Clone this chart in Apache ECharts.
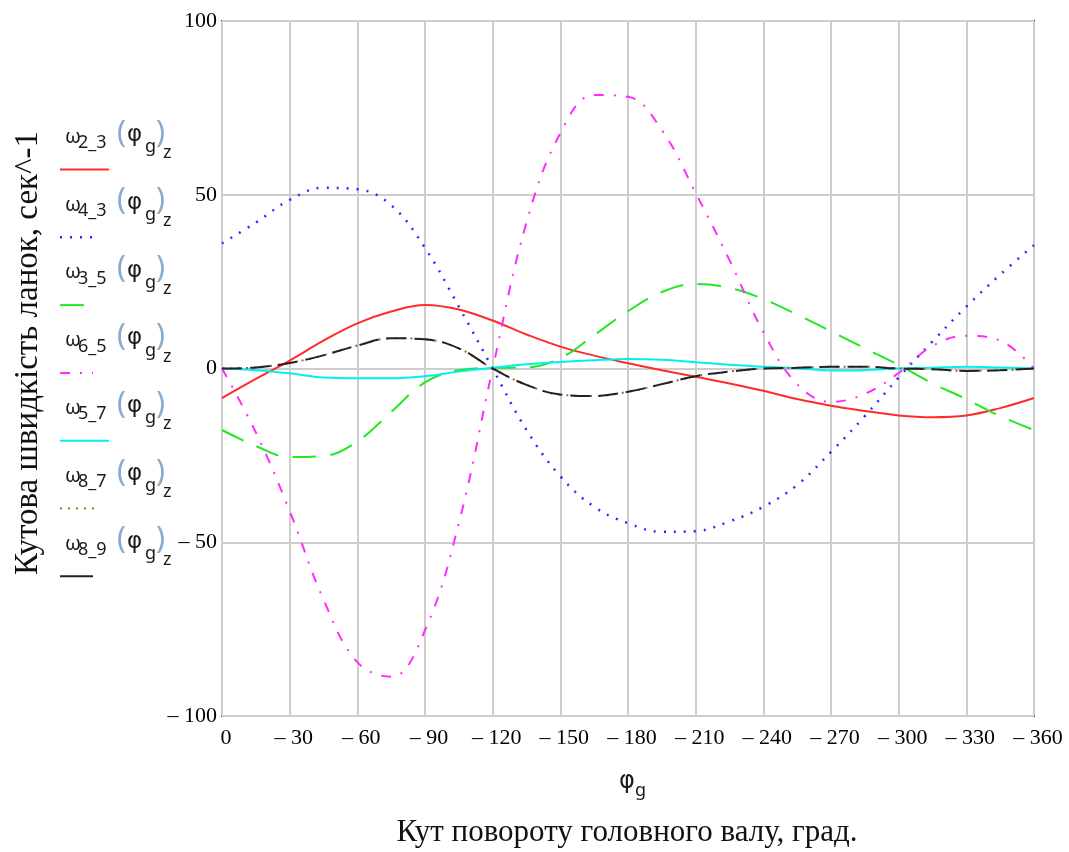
<!DOCTYPE html>
<html lang="uk">
<head>
<meta charset="UTF-8">
<title>Кутова швидкість ланок</title>
<script src="https://cdn.jsdelivr.net/npm/echarts@6/dist/echarts.min.js"></script>
<style>
  html, body { margin: 0; padding: 0; background: #fff; }
  #chart { width: 1069px; height: 852px; }
</style>
</head>
<body>
<div id="chart"></div>
<script type="text/javascript">
    // кут повороту головного валу, град
    var phi = [0, 15, 30, 45, 60, 75, 90, 105, 120, 135, 150, 165, 180,
               195, 210, 225, 240, 255, 270, 285, 300, 315, 330, 345, 360];

    // кутові швидкості ланок, сек^-1
    var w23 = [-8.5, -3, 2.3, 8, 13, 16.4, 18.3, 17, 13.8, 9.8, 6.3, 3.7, 1.5,
               -0.5, -2.4, -4.3, -6.4, -8.8, -10.7, -12.2, -13.5, -14, -13.5, -11.4, -8.5];
    var w43 = [36, 42, 48.5, 52, 51.6, 47, 34.7, 17.8, 0, -17.7, -31, -39.8, -44.5,
               -47, -46.8, -44, -39.8, -33.5, -24, -13.7, -2.6, 7.8, 17.8, 27, 35.5];
    var w35 = [-17.7, -22.3, -25.5, -25.2, -21, -12.5, -4, -0.5, 0.2, 0.3, 3, 9.6, 16.5,
               22, 24.3, 23.2, 20, 15.5, 10.7, 5.8, 1, -4.3, -8.8, -13.7, -17.7];
    var w65 = [0, -18.4, -41, -66.5, -84.5, -88.7, -75.3, -44.5, 0, 42, 67.7, 78.7, 78.2,
               68.6, 50.5, 31.2, 10.5, -4.5, -9.6, -7.3, -1.3, 6.5, 9.4, 8, 0];
    var w57 = [0, -0.5, -1.4, -2.6, -2.8, -2.8, -2.2, -0.9, 0.2, 1.2, 1.9, 2.4, 2.7,
               2.5, 1.8, 1.1, 0.5, 0.1, -0.6, -0.5, 0, 0.2, 0.5, 0.3, 0];
    var w87 = [0, 0.3, 1.6, 3.8, 6.6, 8.7, 8.4, 5.8, 0, -4.7, -7.5, -7.9, -6.7,
               -4.5, -2.2, -0.9, 0, 0.2, 0.5, 0.5, 0, -0.2, -0.7, -0.5, 0];
    var w89 = w87;

    var xTicks = [0, 30, 60, 90, 120, 150, 180, 210, 240, 270, 300, 330, 360];
    var yTicks = [-100, -50, 0, 50, 100];

    var subs = ['2_3', '4_3', '3_5', '6_5', '5_7', '8_7', '8_9'];

    var traces = [
        {data: w23, color: '#ff2a2a', type: 'solid', width: 2, legendLen: 49},
        {data: w43, color: '#2a2aff', type: [2, 8], width: 2.5, legendLen: 40},
        {data: w35, color: '#22e822', type: [24, 14], width: 2, legendLen: 33},
        {data: w65, color: '#ff2aff', type: [10, 10, 2, 10], width: 2, legendLen: 33},
        {data: w57, color: '#00f0f0', type: 'solid', width: 2, legendLen: 49},
        {data: w87, color: '#a0622c', type: [2, 6], width: 2, legendLen: 40},
        {data: w89, color: '#222222', type: [20, 8], width: 2, legendLen: 33}
    ];

    function pairs(vals) {
        var out = [];
        for (var i = 0; i < phi.length; i++) {
            out.push([phi[i], vals[i]]);
        }
        return out;
    }

    function minus(v) {
        return v < 0 ? '\u2013 ' + (-v) : '' + v;
    }

    var series = [];
    for (var i = 0; i < traces.length; i++) {
        var t = traces[i];
        series.push({
            name: '\u03c9' + subs[i],
            type: 'line',
            data: pairs(t.data),
            smooth: 0.4,
            showSymbol: false,
            silent: true,
            lineStyle: {color: t.color, width: t.width, type: t.type}
        });
    }

    // легенда в стилі Mathcad
    var graphic = [];
    var mathFont = '"Noto Sans", "DejaVu Sans", sans-serif';
    var phiFont = '"DejaVu Sans", sans-serif';
    var serif = '"Liberation Serif", "DejaVu Serif", serif';
    function piece(x, y, s, size, color, family) {
        return {
            type: 'text', silent: true,
            style: {text: s, x: x, y: y, fill: color || '#1a1a1a',
                    font: size + 'px ' + (family || mathFont), verticalAlign: 'middle', align: 'left'}
        };
    }
    for (var k = 0; k < subs.length; k++) {
        var y0 = 139 + k * 67.8;
        graphic.push(piece(65, y0 - 2, '\u03c9', 20));
        graphic.push(piece(78, y0 + 4, subs[k], 18));
        graphic.push(piece(117, y0 - 6, '(', 30, '#88abd0'));
        graphic.push(piece(127, y0 - 4, '\u03c6', 23, null, phiFont));
        graphic.push(piece(145, y0 + 8, 'g', 18));
        graphic.push(piece(156, y0 - 6, ')', 30, '#88abd0'));
        graphic.push(piece(163, y0 + 14, 'z', 18));
        var tr = traces[k];
        var ly = 169.5 + k * 67.8;
        graphic.push({
            type: 'line', silent: true,
            shape: {x1: 60, y1: ly, x2: 60 + tr.legendLen, y2: ly},
            style: {stroke: tr.color, lineWidth: tr.width,
                    lineDash: (tr.type === 'solid' || k === 6) ? null : tr.type}
        });
    }

    // підписи осей
    graphic.push({
        type: 'text', silent: true, rotation: Math.PI / 2,
        x: 28, y: 353,
        style: {text: 'Кутова швидкість ланок, сек^-1', fill: '#111',
                font: '33px ' + serif, align: 'center', verticalAlign: 'middle'}
    });
    graphic.push(piece(619, 782, '\u03c6', 24, null, phiFont));
    graphic.push(piece(635, 791, 'g', 18));
    graphic.push({
        type: 'text', silent: true,
        style: {text: 'Кут повороту головного валу, град.', x: 627, y: 833, fill: '#111',
                font: '31px ' + serif, align: 'center', verticalAlign: 'middle'}
    });

    var myChart = echarts.init(document.getElementById('chart'), null, {renderer: 'canvas'});
    var option = {
        animation: false,
        backgroundColor: '#ffffff',
        grid: {
            left: 222, right: 35, top: 21, bottom: 136,
            show: true, borderColor: '#333333', borderWidth: 2, backgroundColor: 'transparent'
        },
        xAxis: {
            type: 'value', min: xTicks[0], max: xTicks[xTicks.length - 1], interval: 30,
            axisLine: {show: false},
            axisTick: {show: false},
            splitLine: {show: true, lineStyle: {color: '#cdcdcd', width: 2}},
            axisLabel: {
                color: '#000', fontFamily: serif, fontSize: 22, margin: 11,
                padding: [0, 0, 0, 8],
                formatter: function (v) { return minus(v === 0 ? 0 : -v); }
            }
        },
        yAxis: {
            type: 'value', min: yTicks[0], max: yTicks[yTicks.length - 1], interval: 50,
            axisLine: {show: false},
            axisTick: {show: false},
            splitLine: {show: true, lineStyle: {color: '#cdcdcd', width: 2}},
            axisLabel: {
                color: '#000', fontFamily: serif, fontSize: 22, margin: 5,
                formatter: function (v) { return minus(v); }
            }
        },
        series: series,
        graphic: graphic
    };
    myChart.setOption(option);
</script>
</body>
</html>
